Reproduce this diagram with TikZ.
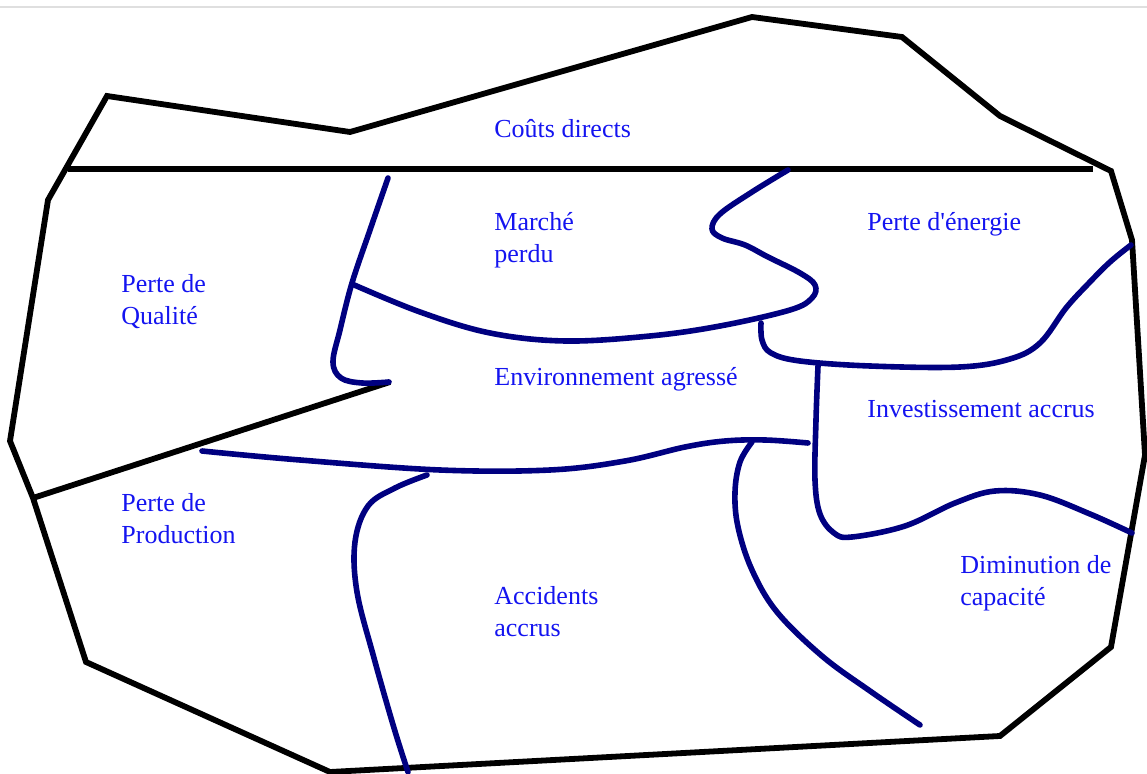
\documentclass[tikz,border=0pt]{standalone}
\usepackage{fontspec}
\setmainfont{Liberation Serif}
\definecolor{navyline}{RGB}{0,0,128}
\definecolor{labelblue}{RGB}{20,20,240}
\begin{document}
\begin{tikzpicture}[x=0.5pt,y=-0.5pt,
  outline/.style={line width=2.9pt,black,line join=miter},
  divider/.style={line width=2.8pt,navyline,line cap=round,line join=round},
  zone/.style={labelblue,font=\fontsize{13pt}{16pt}\selectfont,align=left,anchor=west,inner sep=0pt}]
\useasboundingbox (0,0) rectangle (1147,774);
% thin frame line at the top
\draw[gray!25,line width=0.6pt] (0,7) -- (1147,7);

% outer boundary
\draw[outline] (107,96) -- (350,132) -- (752,17) -- (902,37) -- (1000,116)
  -- (1111,171) -- (1132,240) -- (1145,455) -- (1111,647) -- (1000,736)
  -- (330,772) -- (86,662) -- (33,498) -- (10,441) -- (48,200) -- cycle;

% straight black separators
\coordinate (hl) at (68,169);
\coordinate (hr) at (1093,169);
\draw[outline] (hl) -- (hr);
\coordinate (sl) at (33,498);
\coordinate (sr) at (390,382);
\draw[outline] (sl) -- (sr);

% curved blue separators
\draw[divider] plot[smooth,tension=0.6] coordinates {(388,178) (370,230) (352,283) (340,330) (333,362) (341,378) (362,383) (389,382)};
\draw[divider] plot[smooth,tension=0.6] coordinates {(352,284) (420,312) (490,333) (565,341) (650,336) (720,326) (790,310) (812,298) (815,285) (800,273) (768,257) (745,245) (722,238) (712,229) (720,214) (752,192) (788,170)};
\draw[divider] plot[smooth,tension=0.6] coordinates {(761,323) (762,340) (771,353) (800,361) (870,366) (960,367) (1010,359) (1040,343) (1066,308) (1088,284) (1110,262) (1131,245)};
\draw[divider] plot[smooth,tension=0.6] coordinates {(818,366) (816,420) (815,480) (820,514) (834,533) (852,537) (905,526) (955,503) (995,491) (1040,495) (1090,514) (1132,533)};
\draw[divider] plot[smooth,tension=0.6] coordinates {(202,451) (300,460) (440,470) (550,470) (625,461) (685,447) (725,441) (765,440) (808,443)};
\draw[divider] plot[smooth,tension=0.6] coordinates {(752,442) (740,462) (735,492) (738,527) (752,570) (777,612) (822,656) (870,691) (920,725)};
\draw[divider] plot[smooth,tension=0.6] coordinates {(427,475) (395,488) (368,506) (355,542) (357,592) (374,658) (394,728) (408,772)};

% zone labels
\node[zone] (couts) at (494,129) {Coûts directs};
\node[zone] (marche) at (494,240) {Marché\\perdu};
\node[zone] (energie) at (867,224) {Perte d\textquotesingle énergie};
\node[zone] (qualite) at (121,302) {Perte de\\Qualité};
\node[zone] (envir) at (494,379) {Environnement agressé};
\node[zone] (invest) at (867,409) {Investissement accrus};
\node[zone] (production) at (121,519) {Perte de\\Production};
\node[zone] (accidents) at (494,612) {Accidents\\accrus};
\node[zone] (capacite) at (960,583) {Diminution de\\capacité};
\end{tikzpicture}
\end{document}
